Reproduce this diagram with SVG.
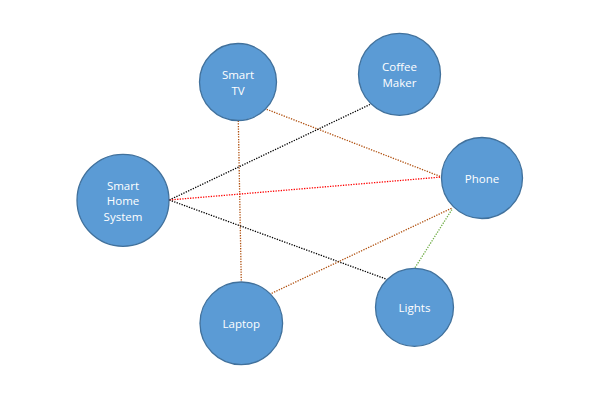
<svg xmlns="http://www.w3.org/2000/svg" width="600" height="400" viewBox="0 0 600 400">
<style>
.n{fill:#5B9BD5;stroke:#41719C;stroke-width:1.3}
.t{fill:#fff;font-family:"Open Sans","Liberation Sans",sans-serif;font-size:11.5px;text-anchor:middle}
.c{fill:none;stroke-width:1.3;stroke-dasharray:1.3 1.3}
.br{stroke:#B0500F}
.bk{stroke:#000}
.rd{stroke:#FF0000}
.gr{stroke:#70AD47}
</style>
<rect width="600" height="400" fill="#fff"/>
<g id="connectors">
<line class="c br" x1="238.3" y1="120.7" x2="241.3" y2="282"/>
<line class="c br" x1="266.7" y1="109.3" x2="441.7" y2="177"/>
<line class="c bk" x1="169.3" y1="200" x2="371" y2="104"/>
<line class="c rd" x1="169.3" y1="200" x2="441.7" y2="177"/>
<line class="c bk" x1="169.3" y1="200" x2="386" y2="279"/>
<line class="c br" x1="271.7" y1="293.3" x2="452.7" y2="207.7"/>
<line class="c gr" x1="415" y1="267.7" x2="452.7" y2="208.3"/>
</g>
<g id="smart-tv"><circle class="n" cx="238" cy="82" r="38.5"/><text class="t" x="238" y="78.5">Smart</text><text class="t" x="238" y="95">TV</text></g>
<g id="coffee-maker"><circle class="n" cx="399.5" cy="74.3" r="41"/><text class="t" x="399.5" y="71">Coffee</text><text class="t" x="399.5" y="87">Maker</text></g>
<g id="smart-home-system"><circle class="n" cx="123" cy="200.3" r="46"/><text class="t" x="123" y="189.5">Smart</text><text class="t" x="123" y="205.2">Home</text><text class="t" x="123" y="221">System</text></g>
<g id="phone"><circle class="n" cx="482" cy="178" r="40.5"/><text class="t" x="482" y="183">Phone</text></g>
<g id="laptop"><circle class="n" cx="241.3" cy="323.3" r="41.3"/><text class="t" x="241.3" y="328">Laptop</text></g>
<g id="lights"><circle class="n" cx="414.5" cy="307.3" r="39"/><text class="t" x="414.5" y="312">Lights</text></g>
</svg>
